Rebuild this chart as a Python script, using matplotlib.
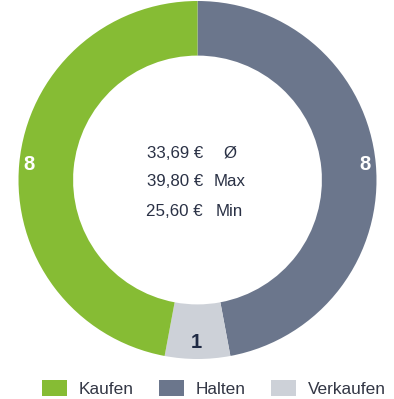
import matplotlib
matplotlib.use("Agg")
import matplotlib.pyplot as plt
from matplotlib.patches import Patch

categories = ["Halten", "Verkaufen", "Kaufen"]
values = [8, 1, 8]
colors = ["#6b768c", "#cdd1d8", "#86bc34"]
legend_order = ["Kaufen", "Halten", "Verkaufen"]
stat_values = ["33,69 €", "39,80 €", "25,60 €"]
stat_labels = ["Ø", "Max", "Min"]

plt.rcParams['font.family'] = ['Liberation Sans', 'DejaVu Sans']

W, H = 394, 399
fig = plt.figure(figsize=(W / 100, H / 100), dpi=100)
ax = fig.add_axes([0, 0, 1, 1])
cx, cy, R = 197.5, 399 - 180, 179
ax.pie(values, colors=colors, startangle=90, counterclock=False,
       center=(cx, cy), radius=R, frame=True,
       wedgeprops=dict(width=R * 0.305, linewidth=0))
ax.set_xlim(0, W)
ax.set_ylim(0, H)
ax.set_aspect('equal')
ax.axis('off')

# segment value labels
label_pos = {"Kaufen": (29, 165), "Halten": (365, 165), "Verkaufen": (196, 343)}
label_col = {"Kaufen": "white", "Halten": "white", "Verkaufen": "#1f2a44"}
for cat, v in zip(categories, values):
    x, y = label_pos[cat]
    ax.text(x, H - y, str(v), ha='center', va='center', fontsize=14.5,
            fontweight='bold', color=label_col[cat])

# center statistics
tc = "#2a3145"
for i, (sv, sl) in enumerate(zip(stat_values, stat_labels)):
    y = H - (153 + 29 * i)
    ax.text(203, y, sv, ha='right', va='center', fontsize=12.2, color=tc)
    ax.text(229.5, y, sl, ha='center', va='center', fontsize=12.2, color=tc)

handles = [Patch(facecolor=colors[categories.index(c)], edgecolor='none', label=c)
           for c in legend_order]
leg = ax.legend(handles=handles, ncol=3, loc='center', bbox_to_anchor=(214 / W, 10.5 / H),
                frameon=False, fontsize=12.4, handlelength=1.4, handleheight=1.1,
                handletextpad=0.7, columnspacing=1.5, borderpad=0, borderaxespad=0)
for t in leg.get_texts():
    t.set_color("#333745")

fig.savefig("out.png", dpi=100)
